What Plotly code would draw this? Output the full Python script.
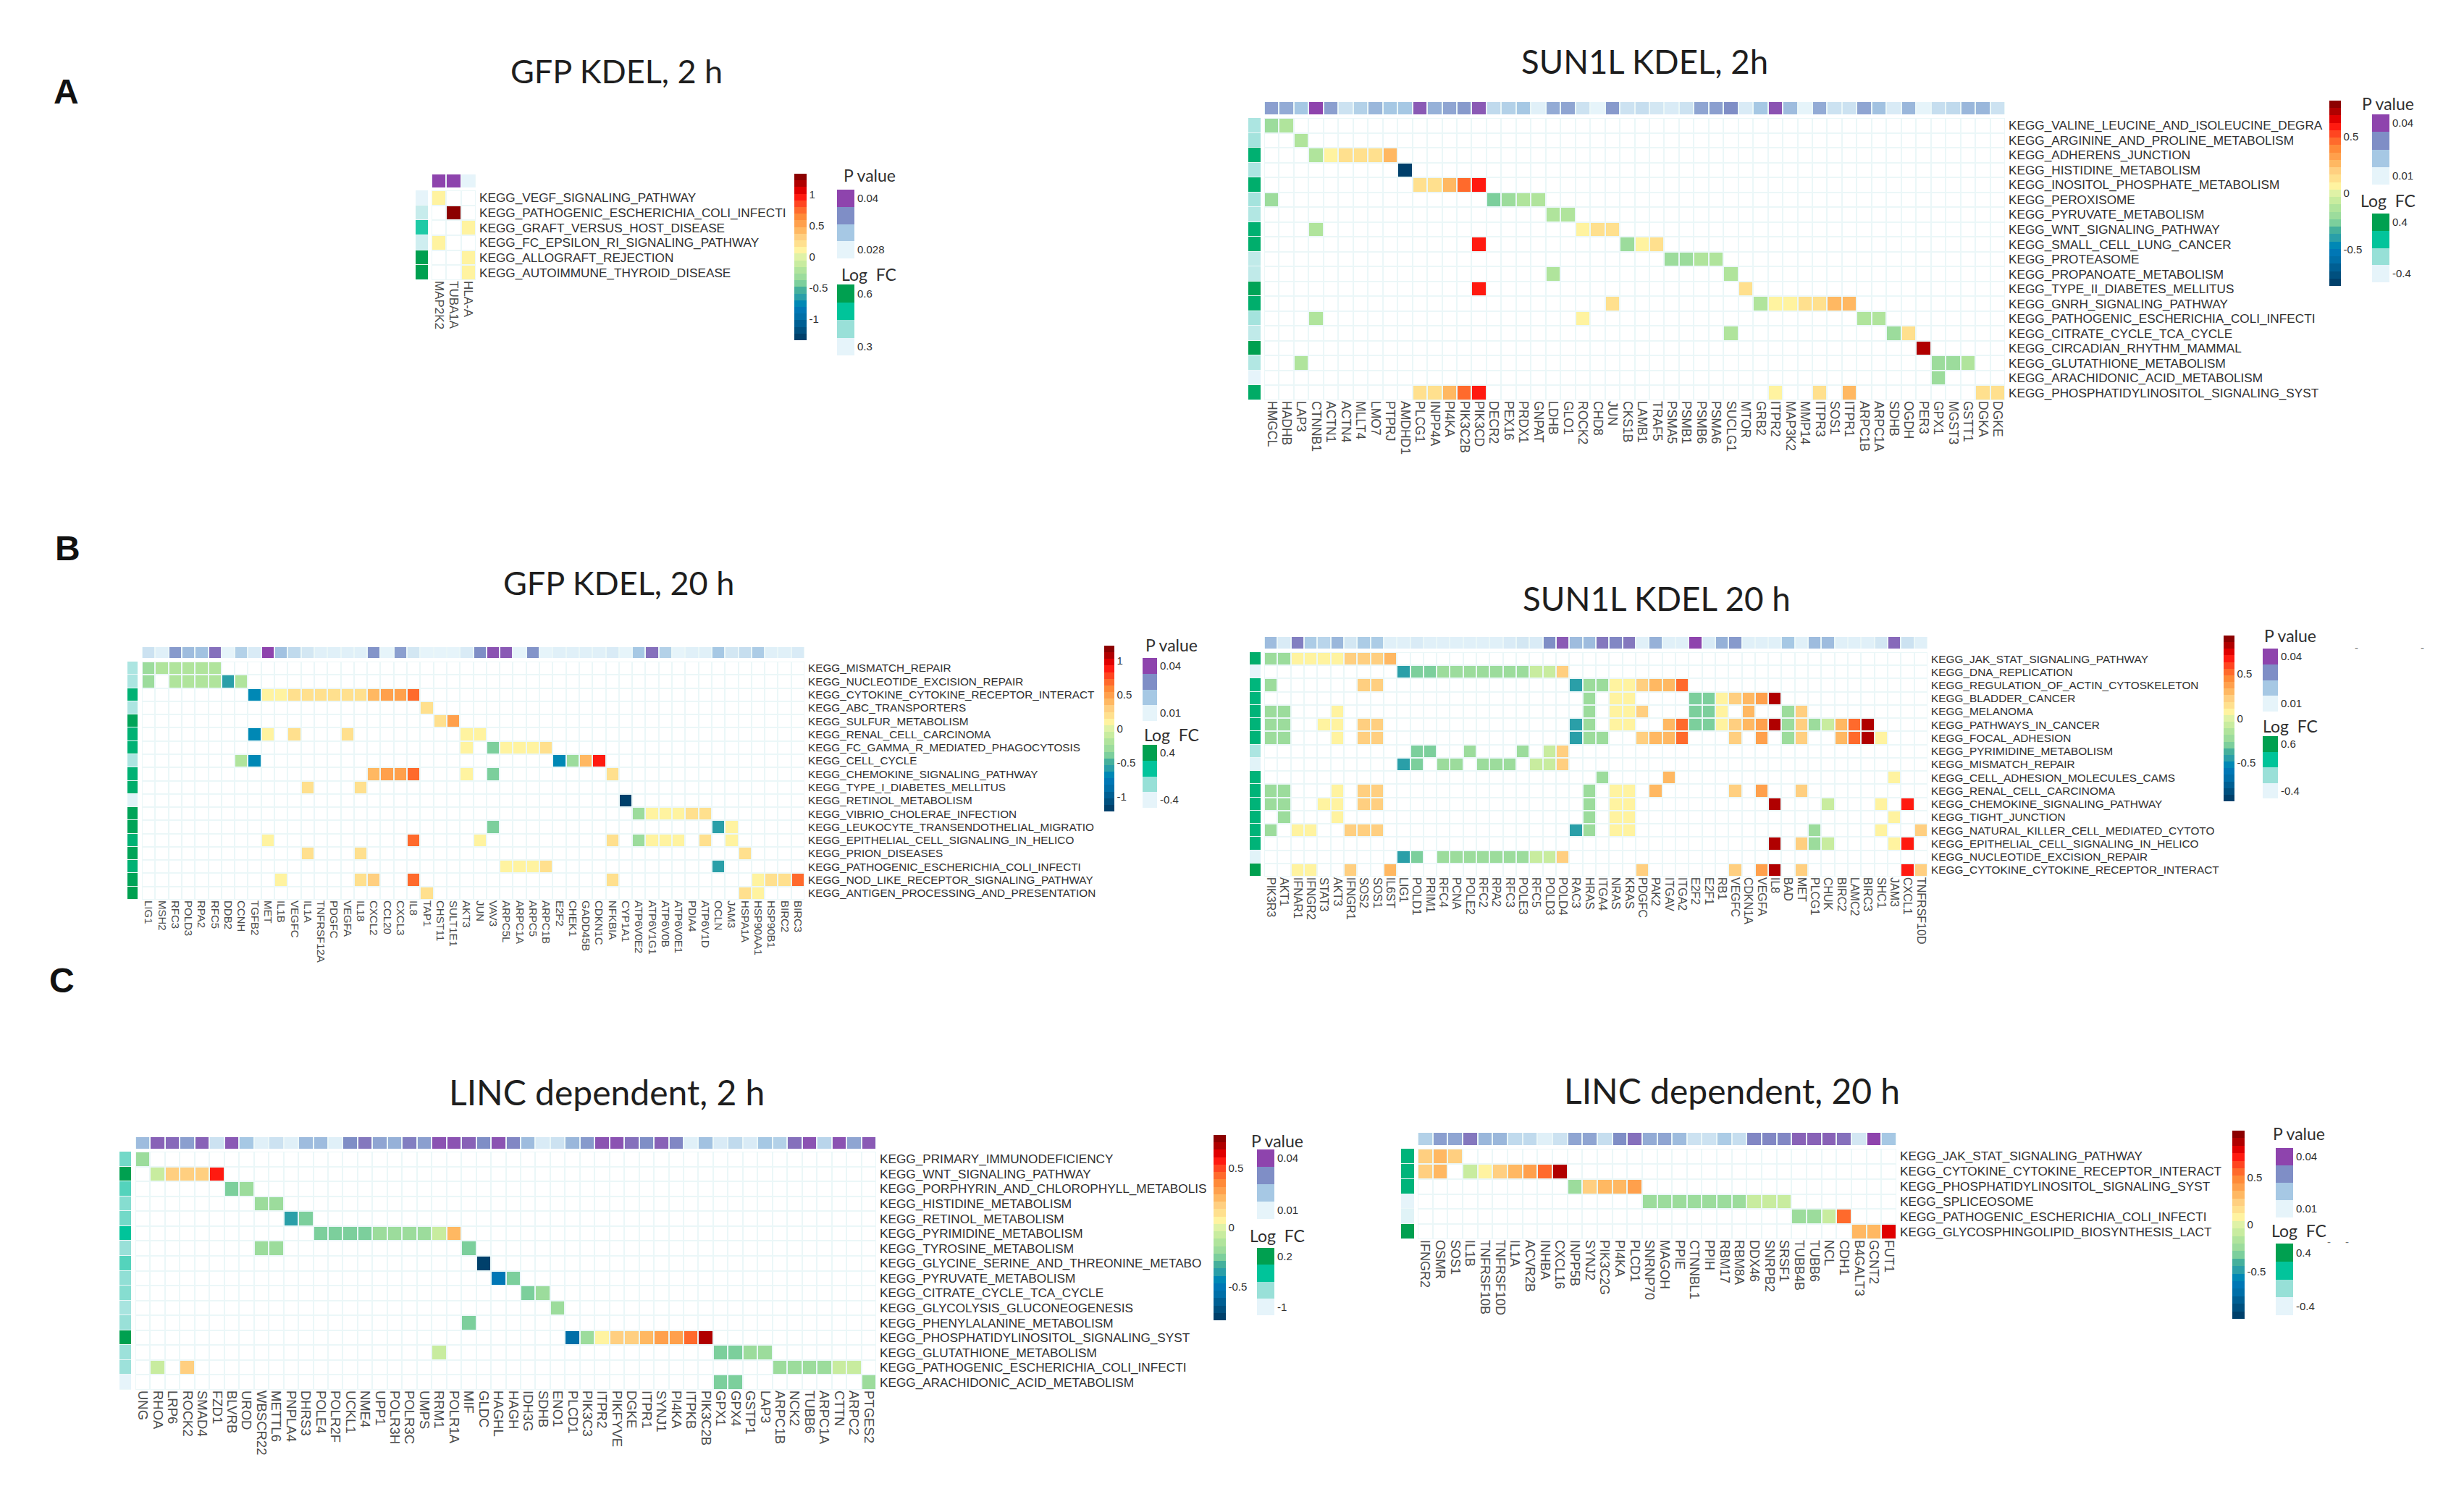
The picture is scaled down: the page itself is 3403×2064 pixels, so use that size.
import plotly.graph_objects as go

# ---------- GFP KDEL, 2 h ----------
A1_GENES = ["MAP2K2", "TUBA1A", "HLA-A"]
A1_PATHWAYS = ["KEGG_VEGF_SIGNALING_PATHWAY", "KEGG_PATHOGENIC_ESCHERICHIA_COLI_INFECTI", "KEGG_GRAFT_VERSUS_HOST_DISEASE",
               "KEGG_FC_EPSILON_RI_SIGNALING_PATHWAY", "KEGG_ALLOGRAFT_REJECTION", "KEGG_AUTOIMMUNE_THYROID_DISEASE"]
A1_PVALUE = [0.04, 0.04, 0.028]
A1_LOGFC = [0.3, 0.34, 0.48, 0.33, 0.6, 0.6]
A1_CELLS = [{1: 0.08}, {2: 1.25}, {3: 0.08}, {1: 0.08}, {3: 0.08}, {3: 0.08}]

# ---------- SUN1L KDEL, 2h ----------
A2_GENES = ["HMGCL", "HADHB", "LAP3", "CTNNB1", "ACTN1", "ACTN4", "MLLT4", "LMO7", "PTPRJ", "AMDHD1", "PLCG1", "INPP4A", "PI4KA",
            "PIK3C2B", "PIK3CD", "DECR2", "PEX16", "PRDX1", "GNPAT", "LDHB", "GLO1", "ROCK2", "CHD8", "JUN", "CKS1B", "LAMB1",
            "TRAF5", "PSMA5", "PSMB1", "PSMB6", "PSMA6", "SUCLG1", "MTOR", "GRB2", "ITPR2", "MAP3K2", "MMP14", "ITPR3", "SOS1",
            "ITPR1", "ARPC1B", "ARPC1A", "SDHB", "OGDH", "PER3", "GPX1", "MGST3", "GSTT1", "DGKA", "DGKE"]
A2_PATHWAYS = ["KEGG_VALINE_LEUCINE_AND_ISOLEUCINE_DEGRA", "KEGG_ARGININE_AND_PROLINE_METABOLISM", "KEGG_ADHERENS_JUNCTION",
               "KEGG_HISTIDINE_METABOLISM", "KEGG_INOSITOL_PHOSPHATE_METABOLISM", "KEGG_PEROXISOME", "KEGG_PYRUVATE_METABOLISM",
               "KEGG_WNT_SIGNALING_PATHWAY", "KEGG_SMALL_CELL_LUNG_CANCER", "KEGG_PROTEASOME", "KEGG_PROPANOATE_METABOLISM",
               "KEGG_TYPE_II_DIABETES_MELLITUS", "KEGG_GNRH_SIGNALING_PATHWAY", "KEGG_PATHOGENIC_ESCHERICHIA_COLI_INFECTI",
               "KEGG_CITRATE_CYCLE_TCA_CYCLE", "KEGG_CIRCADIAN_RHYTHM_MAMMAL", "KEGG_GLUTATHIONE_METABOLISM",
               "KEGG_ARACHIDONIC_ACID_METABOLISM", "KEGG_PHOSPHATIDYLINOSITOL_SIGNALING_SYST"]
A2_PVALUE = [0.027, 0.025, 0.02, 0.04, 0.027, 0.014, 0.018, 0.023, 0.02, 0.02, 0.037, 0.024, 0.026, 0.028, 0.037, 0.016, 0.018,
             0.02, 0.011, 0.025, 0.026, 0.014, 0.01, 0.028, 0.014, 0.015, 0.013, 0.012, 0.014, 0.026, 0.027, 0.03, 0.012, 0.02,
             0.038, 0.022, 0.01, 0.025, 0.014, 0.014, 0.026, 0.021, 0.012, 0.023, 0.01, 0.015, 0.016, 0.023, 0.023, 0.014]
A2_LOGFC = [-0.2, -0.17, 0.28, -0.2, 0.3, -0.17, -0.22, 0.28, 0.3, -0.27, -0.27, 0.38, 0.3, -0.17, -0.27, 0.4, -0.22, -0.4, 0.32]
A2_CELLS = [
    {1: -0.2, 2: -0.1}, {3: -0.1},
    {4: -0.1, 5: 0.05, 6: 0.16, 7: 0.16, 8: 0.16, 9: 0.27},
    {10: -0.78},
    {11: 0.16, 12: 0.16, 13: 0.27, 14: 0.45, 15: 0.57},
    {1: -0.2, 16: -0.27, 17: -0.2, 18: -0.1, 19: -0.1},
    {20: -0.1, 21: -0.1},
    {4: -0.1, 22: 0.05, 23: 0.16, 24: 0.16},
    {15: 0.57, 25: -0.2, 26: 0.05, 27: 0.16},
    {28: -0.2, 29: -0.2, 30: -0.1, 31: -0.1},
    {20: -0.1, 32: -0.1},
    {15: 0.57, 33: 0.16},
    {24: 0.16, 34: -0.1, 35: 0.05, 36: 0.05, 37: 0.16, 38: 0.16, 39: 0.27, 40: 0.24},
    {4: -0.1, 22: 0.05, 41: -0.1, 42: -0.1},
    {32: -0.1, 43: -0.2, 44: 0.16},
    {45: 0.74},
    {3: -0.1, 46: -0.2, 47: -0.2, 48: -0.1},
    {46: -0.2},
    {11: 0.16, 12: 0.16, 13: 0.27, 14: 0.45, 15: 0.57, 35: 0.05, 38: 0.16, 40: 0.27, 49: 0.16, 50: 0.16},
]

# ---------- GFP KDEL, 20 h ----------
B1_GENES = ["LIG1", "MSH2", "RFC3", "POLD3", "RPA2", "RFC5", "DDB2", "CCNH", "TGFB2", "MET", "IL1B", "VEGFC", "IL1A", "TNFRSF12A",
            "PDGFC", "VEGFA", "IL18", "CXCL2", "CCL20", "CXCL3", "IL8", "TAP1", "CHST11", "SULT1E1", "AKT3", "JUN", "VAV3", "ARPC5L",
            "ARPC1A", "ARPC5", "ARPC1B", "E2F2", "CHEK1", "GADD45B", "CDKN1C", "NFKBIA", "CYP1A1", "ATP6V0E2", "ATP6V1G1", "ATP6V0B",
            "ATP6V0E1", "PDIA4", "ATP6V1D", "OCLN", "JAM3", "HSPA1A", "HSP90AA1", "HSP90B1", "BIRC2", "BIRC3"]
B1_PATHWAYS = ["KEGG_MISMATCH_REPAIR", "KEGG_NUCLEOTIDE_EXCISION_REPAIR", "KEGG_CYTOKINE_CYTOKINE_RECEPTOR_INTERACT",
               "KEGG_ABC_TRANSPORTERS", "KEGG_SULFUR_METABOLISM", "KEGG_RENAL_CELL_CARCINOMA", "KEGG_FC_GAMMA_R_MEDIATED_PHAGOCYTOSIS",
               "KEGG_CELL_CYCLE", "KEGG_CHEMOKINE_SIGNALING_PATHWAY", "KEGG_TYPE_I_DIABETES_MELLITUS", "KEGG_RETINOL_METABOLISM",
               "KEGG_VIBRIO_CHOLERAE_INFECTION", "KEGG_LEUKOCYTE_TRANSENDOTHELIAL_MIGRATIO", "KEGG_EPITHELIAL_CELL_SIGNALING_IN_HELICO",
               "KEGG_PRION_DISEASES", "KEGG_PATHOGENIC_ESCHERICHIA_COLI_INFECTI", "KEGG_NOD_LIKE_RECEPTOR_SIGNALING_PATHWAY",
               "KEGG_ANTIGEN_PROCESSING_AND_PRESENTATION"]
B1_PVALUE = [0.014, 0.011, 0.028, 0.022, 0.021, 0.034, 0.01, 0.018, 0.012, 0.04, 0.021, 0.016, 0.013, 0.011, 0.011, 0.011, 0.011,
             0.029, 0.01, 0.027, 0.013, 0.01, 0.01, 0.01, 0.012, 0.03, 0.038, 0.037, 0.01, 0.029, 0.01, 0.011, 0.011, 0.011, 0.011,
             0.012, 0.01, 0.02, 0.034, 0.018, 0.01, 0.011, 0.011, 0.02, 0.013, 0.015, 0.019, 0.011, 0.011, 0.012]
B1_LOGFC = [-0.2, -0.2, 0.27, -0.2, 0.37, 0.27, 0.27, -0.2, 0.27, 0.3, -0.38, 0.37, 0.37, 0.27, 0.37, 0.27, 0.37, 0.4]
B1_CELLS = [
    {1: -0.3, 2: -0.15, 3: -0.15, 4: -0.15, 5: -0.15, 6: -0.15},
    {1: -0.3, 3: -0.15, 4: -0.15, 5: -0.15, 6: -0.15, 7: -0.6, 8: -0.15},
    {9: -0.73, 10: 0.07, 11: 0.07, 12: 0.24, 13: 0.24, 14: 0.24, 15: 0.24, 16: 0.24, 17: 0.24, 18: 0.4, 19: 0.52, 20: 0.52, 21: 0.67},
    {22: 0.24},
    {23: 0.24, 24: 0.52},
    {9: -0.73, 10: 0.07, 12: 0.24, 16: 0.24, 25: 0.07, 26: 0.07},
    {25: 0.07, 27: -0.4, 28: 0.07, 29: 0.07, 30: 0.07, 31: 0.24},
    {8: -0.15, 9: -0.73, 32: -0.73, 33: -0.3, 34: 0.4, 35: 0.85},
    {18: 0.4, 19: 0.52, 20: 0.52, 21: 0.67, 25: 0.07, 27: -0.4, 36: 0.24},
    {13: 0.24, 17: 0.24},
    {37: -1.15},
    {38: -0.3, 39: 0.07, 40: 0.07, 41: 0.07, 42: 0.24, 43: 0.24},
    {27: -0.4, 44: -0.6, 45: 0.07},
    {10: 0.07, 21: 0.67, 26: 0.07, 36: 0.24, 38: -0.3, 39: 0.07, 40: 0.07, 41: 0.07, 43: 0.24, 45: 0.07},
    {13: 0.24, 17: 0.24, 46: 0.24},
    {28: 0.07, 29: 0.07, 30: 0.07, 31: 0.24, 44: -0.6},
    {11: 0.07, 17: 0.24, 18: 0.3, 21: 0.67, 36: 0.24, 47: 0.07, 48: 0.24, 49: 0.24, 50: 0.72},
    {22: 0.24, 46: 0.24, 47: 0.07},
]

# ---------- SUN1L KDEL 20 h ----------
B2_GENES = ["PIK3R3", "AKT1", "IFNAR1", "IFNGR2", "STAT3", "AKT3", "IFNGR1", "SOS2", "SOS1", "IL6ST", "LIG1", "POLD1", "PRIM1", "RFC4",
            "PCNA", "POLE2", "RFC2", "RPA2", "RFC3", "POLE3", "RFC5", "POLD3", "POLD4", "RAC3", "HRAS", "ITGA4", "NRAS", "KRAS", "PDGFC",
            "PAK2", "ITGAV", "ITGA2", "E2F2", "E2F1", "RB1", "VEGFC", "CDKN1A", "VEGFA", "IL8", "BAD", "MET", "PLCG1", "CHUK", "BIRC2",
            "LAMC2", "BIRC3", "SHC1", "JAM3", "CXCL1", "TNFRSF10D"]
B2_PATHWAYS = ["KEGG_JAK_STAT_SIGNALING_PATHWAY", "KEGG_DNA_REPLICATION", "KEGG_REGULATION_OF_ACTIN_CYTOSKELETON", "KEGG_BLADDER_CANCER",
               "KEGG_MELANOMA", "KEGG_PATHWAYS_IN_CANCER", "KEGG_FOCAL_ADHESION", "KEGG_PYRIMIDINE_METABOLISM", "KEGG_MISMATCH_REPAIR",
               "KEGG_CELL_ADHESION_MOLECULES_CAMS", "KEGG_RENAL_CELL_CARCINOMA", "KEGG_CHEMOKINE_SIGNALING_PATHWAY", "KEGG_TIGHT_JUNCTION",
               "KEGG_NATURAL_KILLER_CELL_MEDIATED_CYTOTO", "KEGG_EPITHELIAL_CELL_SIGNALING_IN_HELICO", "KEGG_NUCLEOTIDE_EXCISION_REPAIR",
               "KEGG_CYTOKINE_CYTOKINE_RECEPTOR_INTERACT"]
B2_PVALUE = [0.022, 0.012, 0.032, 0.019, 0.017, 0.023, 0.013, 0.019, 0.019, 0.011, 0.011, 0.012, 0.011, 0.011, 0.011, 0.011, 0.011,
             0.011, 0.012, 0.013, 0.012, 0.03, 0.037, 0.022, 0.022, 0.033, 0.031, 0.033, 0.011, 0.024, 0.011, 0.011, 0.04, 0.012,
             0.024, 0.028, 0.011, 0.011, 0.011, 0.02, 0.011, 0.022, 0.022, 0.011, 0.011, 0.011, 0.013, 0.035, 0.014, 0.011]
B2_LOGFC = [0.48, -0.4, 0.4, 0.4, 0.42, 0.42, 0.42, -0.15, -0.38, 0.42, 0.42, 0.42, 0.42, 0.42, 0.42, -0.38, 0.6]
B2_CELLS = [
    {1: -0.23, 2: -0.23, 3: 0.06, 4: 0.06, 5: 0.06, 6: 0.06, 7: 0.19, 8: 0.19, 9: 0.19, 10: 0.31},
    {11: -0.46, 12: -0.31, 13: -0.31, 14: -0.23, 15: -0.23, 16: -0.23, 17: -0.23, 18: -0.23, 19: -0.23, 20: -0.23, 21: -0.11, 22: -0.11, 23: 0.19},
    {1: -0.23, 8: 0.19, 9: 0.19, 24: -0.46, 25: -0.23, 26: -0.23, 27: 0.06, 28: 0.06, 29: 0.19, 30: 0.31, 31: 0.31, 32: 0.51},
    {25: -0.23, 27: 0.06, 28: 0.06, 33: -0.31, 34: -0.31, 35: 0.06, 36: 0.19, 37: 0.31, 38: 0.4, 39: 0.84},
    {1: -0.23, 2: -0.23, 6: 0.06, 25: -0.23, 27: 0.06, 28: 0.06, 29: 0.19, 33: -0.31, 34: -0.31, 35: 0.06, 37: 0.31, 40: -0.23, 41: 0.19},
    {1: -0.23, 2: -0.23, 5: 0.06, 6: 0.06, 8: 0.19, 9: 0.19, 24: -0.46, 25: -0.23, 27: 0.06, 28: 0.06, 31: 0.31, 32: 0.51, 33: -0.31, 34: -0.31,
     35: 0.06, 36: 0.19, 37: 0.31, 38: 0.4, 39: 0.84, 40: -0.23, 41: 0.19, 42: -0.23, 43: -0.11, 44: 0.31, 45: 0.51, 46: 0.84},
    {1: -0.23, 2: -0.23, 6: 0.06, 8: 0.19, 9: 0.19, 24: -0.46, 25: -0.23, 26: -0.23, 29: 0.19, 30: 0.31, 31: 0.31, 32: 0.51, 36: 0.19, 38: 0.4,
     40: -0.23, 41: 0.19, 44: 0.31, 45: 0.51, 46: 0.84, 47: 0.06},
    {12: -0.31, 13: -0.31, 16: -0.23, 20: -0.23, 22: -0.11, 23: 0.19},
    {11: -0.46, 12: -0.31, 14: -0.23, 15: -0.23, 17: -0.23, 18: -0.23, 19: -0.23, 21: -0.11, 22: -0.11, 23: 0.19},
    {26: -0.23, 31: 0.31, 48: 0.06},
    {1: -0.23, 2: -0.23, 6: 0.06, 8: 0.19, 9: 0.19, 25: -0.23, 27: 0.06, 28: 0.06, 30: 0.31, 36: 0.19, 38: 0.4, 41: 0.19},
    {1: -0.23, 2: -0.23, 5: 0.06, 6: 0.06, 8: 0.19, 9: 0.19, 25: -0.23, 27: 0.06, 28: 0.06, 39: 0.84, 43: -0.11, 47: 0.06, 49: 0.65},
    {2: -0.23, 6: 0.06, 25: -0.23, 27: 0.06, 28: 0.06, 48: 0.06},
    {1: -0.23, 3: 0.06, 4: 0.06, 7: 0.19, 8: 0.19, 9: 0.19, 24: -0.46, 25: -0.23, 27: 0.06, 28: 0.06, 42: -0.23, 47: 0.06, 50: 0.19},
    {39: 0.84, 41: 0.19, 42: -0.23, 43: -0.11, 48: 0.06, 49: 0.65},
    {11: -0.46, 12: -0.31, 14: -0.23, 15: -0.23, 16: -0.23, 17: -0.23, 18: -0.23, 19: -0.23, 20: -0.23, 21: -0.11, 22: -0.11, 23: 0.19},
    {3: 0.06, 4: 0.06, 7: 0.19, 10: 0.31, 29: 0.19, 36: 0.19, 38: 0.4, 39: 0.84, 41: 0.19, 49: 0.65, 50: 0.19},
]

# ---------- LINC dependent, 2 h ----------
C1_GENES = ["UNG", "RHOA", "LRP6", "ROCK2", "SMAD4", "FZD1", "BLVRB", "UROD", "WBSCR22", "METTL6", "PNPLA4", "DHRS3", "POLE4", "POLR2F",
            "UCKL1", "NME4", "UPP1", "POLR3H", "POLR3C", "UMPS", "RRM1", "POLR1A", "MIF", "GLDC", "HAGHL", "HAGH", "IDH3G", "SDHB", "ENO1",
            "PLCD1", "PIK3C3", "ITPR2", "PIKFYVE", "DGKE", "ITPR1", "SYNJ1", "PI4KA", "ITPKB", "PIK3C2B", "GPX1", "GPX4", "GSTP1", "LAP3",
            "ARPC1B", "NCK2", "TUBB6", "ARPC1A", "CTTN", "ARPC2", "PTGES2"]
C1_PATHWAYS = ["KEGG_PRIMARY_IMMUNODEFICIENCY", "KEGG_WNT_SIGNALING_PATHWAY", "KEGG_PORPHYRIN_AND_CHLOROPHYLL_METABOLIS",
               "KEGG_HISTIDINE_METABOLISM", "KEGG_RETINOL_METABOLISM", "KEGG_PYRIMIDINE_METABOLISM", "KEGG_TYROSINE_METABOLISM",
               "KEGG_GLYCINE_SERINE_AND_THREONINE_METABO", "KEGG_PYRUVATE_METABOLISM", "KEGG_CITRATE_CYCLE_TCA_CYCLE",
               "KEGG_GLYCOLYSIS_GLUCONEOGENESIS", "KEGG_PHENYLALANINE_METABOLISM", "KEGG_PHOSPHATIDYLINOSITOL_SIGNALING_SYST",
               "KEGG_GLUTATHIONE_METABOLISM", "KEGG_PATHOGENIC_ESCHERICHIA_COLI_INFECTI", "KEGG_ARACHIDONIC_ACID_METABOLISM"]
C1_PVALUE = [0.022, 0.036, 0.035, 0.027, 0.036, 0.014, 0.037, 0.02, 0.011, 0.014, 0.011, 0.022, 0.022, 0.011, 0.03, 0.033, 0.026, 0.024,
             0.032, 0.027, 0.038, 0.038, 0.036, 0.03, 0.038, 0.031, 0.022, 0.012, 0.014, 0.023, 0.028, 0.038, 0.038, 0.034, 0.03, 0.036,
             0.031, 0.011, 0.021, 0.012, 0.016, 0.012, 0.02, 0.018, 0.034, 0.038, 0.017, 0.038, 0.026, 0.037]
C1_LOGFC = [-0.5, 0.2, -0.42, -0.55, -0.5, -0.2, -0.6, -0.42, -0.58, -0.55, -0.68, -0.6, 0.2, -0.62, -0.62, -1.0]
C1_CELLS = [
    {1: -0.2},
    {2: -0.09, 3: 0.16, 4: 0.16, 5: 0.16, 6: 0.55},
    {7: -0.27, 8: -0.2},
    {9: -0.18, 10: -0.18},
    {11: -0.4, 12: -0.27},
    {13: -0.27, 14: -0.27, 15: -0.27, 16: -0.27, 17: -0.2, 18: -0.2, 19: -0.2, 20: -0.2, 21: -0.09, 22: 0.27},
    {9: -0.18, 10: -0.18, 23: -0.27},
    {24: -0.75},
    {25: -0.47, 26: -0.27},
    {27: -0.27, 28: -0.2},
    {29: -0.2},
    {23: -0.27},
    {30: -0.55, 31: -0.2, 32: 0.05, 33: 0.16, 34: 0.16, 35: 0.24, 36: 0.3, 37: 0.3, 38: 0.42, 39: 0.7},
    {21: -0.09, 40: -0.27, 41: -0.27, 42: -0.2, 43: -0.2},
    {2: -0.09, 4: 0.16, 44: -0.18, 45: -0.18, 46: -0.18, 47: -0.18, 48: -0.09, 49: -0.09},
    {40: -0.27, 41: -0.27, 50: -0.2},
]

# ---------- LINC dependent, 20 h ----------
C2_GENES = ["IFNGR2", "OSMR", "SOS1", "IL1B", "TNFRSF10B", "TNFRSF10D", "IL1A", "ACVR2B", "INHBA", "CXCL16", "INPP5B", "SYNJ2", "PIK3C2G",
            "PI4KA", "PLCD1", "SNRNP70", "MAGOH", "PPIE", "CTNNBL1", "PPIH", "RBM17", "RBM8A", "DDX46", "SNRPB2", "SRSF1", "TUBB4B", "TUBB6",
            "NCL", "CDH1", "B4GALT3", "GCNT2", "FUT1"]
C2_PATHWAYS = ["KEGG_JAK_STAT_SIGNALING_PATHWAY", "KEGG_CYTOKINE_CYTOKINE_RECEPTOR_INTERACT", "KEGG_PHOSPHATIDYLINOSITOL_SIGNALING_SYST",
               "KEGG_SPLICEOSOME", "KEGG_PATHOGENIC_ESCHERICHIA_COLI_INFECTI", "KEGG_GLYCOSPHINGOLIPID_BIOSYNTHESIS_LACT"]
C2_PVALUE = [0.018, 0.027, 0.026, 0.033, 0.023, 0.023, 0.016, 0.016, 0.011, 0.014, 0.026, 0.026, 0.015, 0.03, 0.034, 0.025, 0.026, 0.022,
             0.014, 0.014, 0.019, 0.015, 0.031, 0.031, 0.031, 0.036, 0.036, 0.036, 0.034, 0.013, 0.04, 0.02]
C2_LOGFC = [0.25, 0.25, 0.25, -0.4, -0.38, 0.4]
C2_CELLS = [
    {1: 0.2, 2: 0.33, 3: 0.27},
    {1: 0.2, 2: 0.33, 4: -0.12, 5: 0.06, 6: 0.2, 7: 0.33, 8: 0.43, 9: 0.55, 10: 0.9},
    {11: -0.25, 12: 0.2, 13: 0.33, 14: 0.33, 15: 0.43},
    {16: -0.2, 17: -0.2, 18: -0.2, 19: -0.2, 20: -0.2, 21: -0.2, 22: -0.2, 23: -0.1, 24: -0.1, 25: -0.1},
    {26: -0.2, 27: -0.2, 28: -0.12, 29: 0.55},
    {30: 0.33, 31: 0.33, 32: 0.8},
]

# Legend values
A1_P_KEY = [0.028, 0.032, 0.036, 0.04]
A1_FC_KEY = [0.3, 0.4, 0.5, 0.6]
P_KEY = [0.01, 0.02, 0.03, 0.04]
FC_KEY = [-0.4, -0.13, 0.13, 0.4]
B2_FC_KEY = [-0.4, -0.07, 0.27, 0.6]
C1_FC_KEY = [-1.0, -0.6, -0.2, 0.2]
MAIN_TICKS_WIDE = [-1, -0.5, 0, 0.5, 1]
MAIN_TICKS_NARROW = [-0.5, 0, 0.5]

# Styles
MAIN_COLORS = ["#00406b", "#00507f", "#005f93", "#006fa8", "#0077b5", "#0088b5", "#2a9fa8", "#45b09c", "#7ccf9c", "#9cdc9c", "#b0e49c",
               "#c8ec9f", "#dff2a6", "#fff3a0", "#ffe08e", "#ffcf80", "#ffb862", "#ffa04c", "#ff8a38", "#ff6a2c", "#ff4520", "#ff1a10",
               "#e00000", "#b00000", "#8c0000"]
P_COLORS = ["#e6f4fa", "#a6c8e4", "#7f8ec6", "#8e44ad"]
FC_COLORS = ["#e6f4fa", "#99e0d8", "#00c49a", "#00a050"]
GRID = "#ebf7f8"
TEXT = "#303030"
GENE_TEXT = "#4a4a4a"
LABEL_FONT = "Liberation Sans"
TITLE_FONT = "Lato"
W, H = 3403, 2064

STEPPED = []
for i, c in enumerate(MAIN_COLORS):
    STEPPED += [[i / len(MAIN_COLORS), c], [(i + 1) / len(MAIN_COLORS), c]]


def ramp(colors):
    return [[i / (len(colors) - 1), c] for i, c in enumerate(colors)]


PANELS = [
    dict(title="GFP KDEL, 2 h", tx=851, ty=98, tsize=45, rsize=17.2, gsize=17, genes=A1_GENES, paths=A1_PATHWAYS, p=A1_PVALUE, fc=A1_LOGFC, cells=A1_CELLS,
         p_key=A1_P_KEY, fc_key=A1_FC_KEY, p_lab=["0.028", "0.04"], fc_lab=["0.3", "0.6"], zmax=1.34, ticks=MAIN_TICKS_WIDE,
         heat=(596, 657, 263, 387), top=(241, 259), side=(574, 591),
         bar=(1097, 1114, 240, 470), pbox=(1156, 1180, 262, 357), ptitle=(1201, 242), fbox=(1156, 1180, 393, 491), ftitle=(1200, 379)),
    dict(title="SUN1L KDEL, 2h", tx=2271, ty=85, tsize=45.5, rsize=17.2, gsize=17.5, genes=A2_GENES, paths=A2_PATHWAYS, p=A2_PVALUE, fc=A2_LOGFC, cells=A2_CELLS,
         p_key=P_KEY, fc_key=FC_KEY, p_lab=["0.01", "0.04"], fc_lab=["-0.4", "0.4"], zmax=0.82, ticks=MAIN_TICKS_NARROW,
         heat=(1746, 2769, 163, 553), top=(141, 158), side=(1724, 1741),
         bar=(3217, 3233, 139, 395), pbox=(3276, 3300, 158, 255), ptitle=(3298, 143), fbox=(3276, 3300, 295, 390), ftitle=(3298, 277)),
    dict(title="GFP KDEL, 20 h", tx=854, ty=805, tsize=45, rsize=15.3, gsize=15, genes=B1_GENES, paths=B1_PATHWAYS, p=B1_PVALUE, fc=B1_LOGFC, cells=B1_CELLS,
         p_key=P_KEY, fc_key=FC_KEY, p_lab=["0.01", "0.04"], fc_lab=["-0.4", "0.4"], zmax=1.22, ticks=MAIN_TICKS_WIDE,
         heat=(196, 1111, 914, 1243), top=(894, 909), side=(176, 190),
         bar=(1525, 1539, 892, 1121), pbox=(1578, 1598, 909, 996), ptitle=(1618, 891), fbox=(1578, 1598, 1029, 1116), ftitle=(1618, 1015)),
    dict(title="SUN1L KDEL 20 h", tx=2288, ty=826, tsize=45.8, rsize=15.4, gsize=16, genes=B2_GENES, paths=B2_PATHWAYS, p=B2_PVALUE, fc=B2_LOGFC, cells=B2_CELLS,
         p_key=P_KEY, fc_key=B2_FC_KEY, p_lab=["0.01", "0.04"], fc_lab=["-0.4", "0.6"], zmax=0.93, ticks=MAIN_TICKS_NARROW,
         heat=(1746, 2662, 901, 1211), top=(880, 896), side=(1726, 1741),
         bar=(3071, 3086, 878, 1107), pbox=(3125, 3146, 896, 983), ptitle=(3163, 878), fbox=(3125, 3146, 1017, 1103), ftitle=(3163, 1003)),
    dict(title="LINC dependent, 2 h", tx=838, ty=1508, tsize=48, rsize=17.2, gsize=18.5, genes=C1_GENES, paths=C1_PATHWAYS, p=C1_PVALUE, fc=C1_LOGFC, cells=C1_CELLS,
         p_key=P_KEY, fc_key=C1_FC_KEY, p_lab=["0.01", "0.04"], fc_lab=["-1", "0.2"], zmax=0.78, ticks=MAIN_TICKS_NARROW,
         heat=(187, 1210, 1591, 1920), top=(1571, 1587), side=(165, 181),
         bar=(1676, 1693, 1568, 1824), pbox=(1736, 1760, 1588, 1684), ptitle=(1764, 1576), fbox=(1736, 1760, 1724, 1817), ftitle=(1764, 1707)),
    dict(title="LINC dependent, 20 h", tx=2392, ty=1506, tsize=48, rsize=17.2, gsize=18, genes=C2_GENES, paths=C2_PATHWAYS, p=C2_PVALUE, fc=C2_LOGFC, cells=C2_CELLS,
         p_key=P_KEY, fc_key=FC_KEY, p_lab=["0.01", "0.04"], fc_lab=["-0.4", "0.4"], zmax=1.0, ticks=MAIN_TICKS_NARROW,
         heat=(1958, 2619, 1587, 1712), top=(1565, 1582), side=(1935, 1953),
         bar=(3083, 3100, 1562, 1822), pbox=(3143, 3167, 1586, 1682), ptitle=(3175, 1566), fbox=(3143, 3167, 1718, 1817), ftitle=(3175, 1700)),
]

PANEL_LETTERS = [("A", 91, 126), ("B", 93, 757), ("C", 85, 1354)]
STRAY_MARKS = [(3254, 894), (3345, 894), (3216, 1715), (3241, 1715)]

fig = go.Figure()
layout = {}
ann = []
axis_n = [0]
ca_n = [0]


def px_x(x):
    return x / W


def px_y(y):
    return 1 - y / H


def hidden(**kw):
    d = dict(showgrid=False, zeroline=False, showline=False, ticks="", showticklabels=False)
    d.update(kw)
    return d


def new_axes(box, xopts, yopts):
    axis_n[0] += 1
    n = axis_n[0]
    suffix = "" if n == 1 else str(n)
    layout["xaxis" + suffix] = dict(domain=[px_x(box[0]), px_x(box[1])], anchor="y" + suffix, **xopts)
    layout["yaxis" + suffix] = dict(domain=[px_y(box[3]), px_y(box[2])], anchor="x" + suffix, **yopts)
    return "x" + suffix, "y" + suffix


def new_coloraxis(**kw):
    ca_n[0] += 1
    name = "coloraxis" + ("" if ca_n[0] == 1 else str(ca_n[0]))
    layout[name] = kw
    return name


def text(s, x, y, size, family=LABEL_FONT, color=TEXT, **kw):
    ann.append(dict(text=s, x=px_x(x), y=px_y(y), xref="paper", yref="paper", showarrow=False,
                    xanchor="center", yanchor="middle", font=dict(size=size, family=family, color=color), **kw))


def key(box, values, labels, coloraxis, title, tpos):
    xa, ya = new_axes(box, hidden(range=[-0.5, 0.5]),
                      dict(showgrid=False, zeroline=False, showline=False, ticks="", side="right", range=[-0.5, 3.5],
                           tickmode="array", tickvals=[0, 3], ticktext=labels, ticklabelstandoff=3,
                           tickfont=dict(size=15, family=LABEL_FONT, color=TEXT)))
    fig.add_trace(go.Heatmap(z=[[v] for v in values], x=[0], y=[0, 1, 2, 3], coloraxis=coloraxis, xaxis=xa, yaxis=ya, hoverinfo="skip"))
    text(title, tpos[0], tpos[1], 23, family=TITLE_FONT)


for pn in PANELS:
    genes, paths = pn["genes"], pn["paths"]
    x0, x1, y0, y1 = pn["heat"]
    text(pn["title"], pn["tx"], pn["ty"], pn["tsize"], family=TITLE_FONT, color="#1e1e1e")

    # Main grid
    xa, ya = new_axes((x0, x1, y0, y1),
                      dict(showgrid=False, zeroline=False, showline=False, ticks="", tickangle=90, tickmode="linear",
                           tickfont=dict(size=pn["gsize"], family=LABEL_FONT, color=GENE_TEXT)),
                      dict(showgrid=False, zeroline=False, showline=False, ticks="", side="right", autorange="reversed",
                           tickmode="linear", ticklabelstandoff=4,
                           tickfont=dict(size=pn["rsize"], family=LABEL_FONT, color=TEXT)))
    fig.add_trace(go.Heatmap(z=[[0] * len(genes) for _ in paths], x=genes, y=paths, xgap=2, ygap=2, showscale=False,
                             colorscale=[[0, "#ffffff"], [1, "#ffffff"]], xaxis=xa, yaxis=ya, hoverinfo="skip"))
    z = [[row.get(i + 1) for i in range(len(genes))] for row in pn["cells"]]
    main_ca = new_coloraxis(
        colorscale=STEPPED, cmin=-pn["zmax"], cmax=pn["zmax"],
        colorbar=dict(x=px_x(pn["bar"][0]), xanchor="left", y=px_y(pn["bar"][2]), yanchor="top", thickness=pn["bar"][1] - pn["bar"][0],
                      thicknessmode="pixels", len=pn["bar"][3] - pn["bar"][2], lenmode="pixels", xpad=0, ypad=0, outlinewidth=0,
                      tickmode="array", tickvals=pn["ticks"], ticktext=[str(t) for t in pn["ticks"]], ticks="", ticklabelposition="outside",
                      tickfont=dict(size=15, family=LABEL_FONT, color=TEXT)))
    fig.add_trace(go.Heatmap(z=z, x=genes, y=paths, xgap=2, ygap=2, coloraxis=main_ca, xaxis=xa, yaxis=ya, hoverongaps=False))

    # P value strip
    p_ca = new_coloraxis(colorscale=ramp(P_COLORS), cmin=min(pn["p_key"]), cmax=max(pn["p_key"]), showscale=False)
    xt, yt = new_axes((x0, x1, pn["top"][0], pn["top"][1]), hidden(), hidden())
    fig.add_trace(go.Heatmap(z=[pn["p"]], x=genes, y=["P value"], xgap=2, coloraxis=p_ca, xaxis=xt, yaxis=yt))

    # Log FC strip
    f_ca = new_coloraxis(colorscale=ramp(FC_COLORS), cmin=min(pn["fc_key"]), cmax=max(pn["fc_key"]), showscale=False)
    xs, ys = new_axes((pn["side"][0], pn["side"][1], y0, y1), hidden(), hidden(autorange="reversed"))
    fig.add_trace(go.Heatmap(z=[[v] for v in pn["fc"]], x=["Log FC"], y=paths, ygap=1, coloraxis=f_ca, xaxis=xs, yaxis=ys))

    # Keys
    key(pn["pbox"], pn["p_key"], pn["p_lab"], p_ca, "P value", pn["ptitle"])
    key(pn["fbox"], pn["fc_key"], pn["fc_lab"], f_ca, "Log  FC", pn["ftitle"])

for s, x, y in PANEL_LETTERS:
    text("<b>%s</b>" % s, x, y, 48, family="Liberation Sans", color="#111111")
for x, y in STRAY_MARKS:
    text("-", x, y, 15, color="#777777")

fig.update_layout(width=W, height=H, margin=dict(l=0, r=0, t=0, b=0), paper_bgcolor="#ffffff", plot_bgcolor=GRID,
                  showlegend=False, annotations=ann, **layout)
fig.write_html("out.html", config={"displayModeBar": False}, post_script="document.body.style.margin='0';")
